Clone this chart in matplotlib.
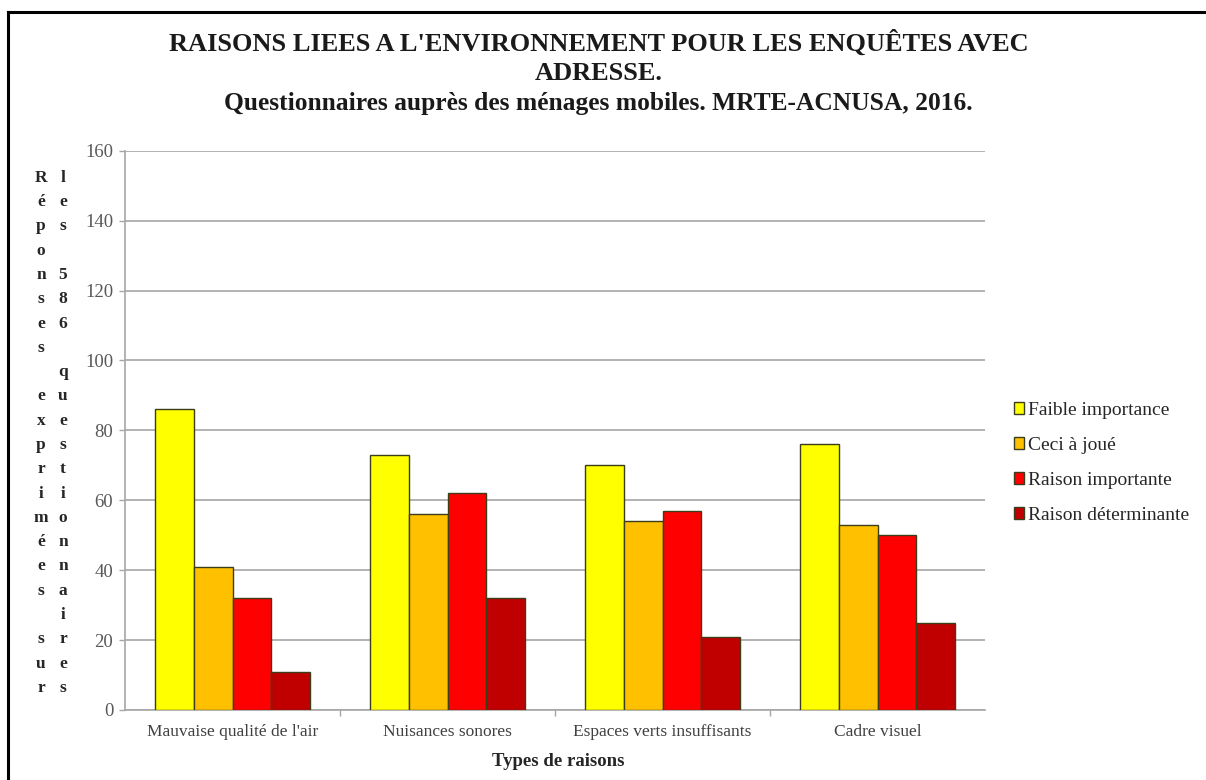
import matplotlib
matplotlib.use("Agg")
import matplotlib.pyplot as plt
import numpy as np
from matplotlib.lines import Line2D

# Data
categories = ["Mauvaise qualité de l'air", "Nuisances sonores",
              "Espaces verts insuffisants", "Cadre visuel"]
series_names = ["Faible importance", "Ceci à joué",
                "Raison importante", "Raison déterminante"]
faible = [86, 73, 70, 76]
ceci = [41, 56, 54, 53]
importante = [32, 62, 57, 50]
determinante = [11, 32, 21, 25]
series_values = [faible, ceci, importante, determinante]
series_colors = ["#FFFF00", "#FFC000", "#FF0000", "#C00000"]
yticks = [0, 20, 40, 60, 80, 100, 120, 140, 160]

title_lines = ["RAISONS LIEES A L'ENVIRONNEMENT POUR LES ENQUÊTES AVEC",
               "ADRESSE."]
subtitle = "Questionnaires auprès des ménages mobiles. MRTE-ACNUSA, 2016."
ylabel_col1 = "Réponses exprimées sur"
ylabel_col2 = "les 586 questionnaires"
xlabel = "Types de raisons"

W, H = 1206, 780
plt.rcParams["font.family"] = ["Liberation Serif", "DejaVu Serif"]

fig = plt.figure(figsize=(W / 100, H / 100), dpi=100)
fig.patch.set_facecolor("white")


def fx(px):
    return px / W


def fy(py):
    return 1 - py / H


ax = fig.add_axes([fx(125), fy(710), fx(985) - fx(125), fy(150.7) - fy(710)])

x = np.arange(len(categories))
bar_w = 0.18
n = len(series_values)
for i, (vals, col, name) in enumerate(zip(series_values, series_colors, series_names)):
    offs = (i - (n - 1) / 2) * bar_w
    ax.bar(x + offs, vals, width=bar_w, color=col, edgecolor="#3d3d1a",
           linewidth=1.0, label=name, zorder=3)

ax.set_xlim(-0.5, len(categories) - 0.5)
ax.set_ylim(0, 160)
ax.set_yticks(yticks)
ax.set_yticklabels([str(v) for v in yticks])
ax.yaxis.grid(True, color="#a6a6a6", linewidth=1.2, zorder=0)
ax.set_axisbelow(True)

for s in ["top", "right"]:
    ax.spines[s].set_visible(False)
for s in ["left", "bottom"]:
    ax.spines[s].set_color("#a6a6a6")
    ax.spines[s].set_linewidth(1.2)

ax.tick_params(axis="y", direction="out", length=4.5, width=1.0, color="#a6a6a6",
               labelsize=13.5, labelcolor="#595959", pad=4)
ax.set_xticks(x)
ax.set_xticklabels(categories)
ax.tick_params(axis="x", length=0, labelsize=12.5, labelcolor="#404040", pad=10)
ax.set_xticks(np.arange(0.5, len(categories) - 0.5, 1.0), minor=True)
ax.tick_params(axis="x", which="minor", direction="out", length=4, width=1.0,
               color="#a6a6a6")

# Titles (placed on their baselines)
fig.text(fx(599), fy(51), title_lines[0], ha="center", va="baseline",
         fontsize=19, fontweight="bold", color="#1a1a1a")
fig.text(fx(599), fy(80), title_lines[1], ha="center", va="baseline",
         fontsize=19, fontweight="bold", color="#1a1a1a")
fig.text(fx(598), fy(110), subtitle, ha="center", va="baseline",
         fontsize=18.4, fontweight="bold", color="#1a1a1a")

# Stacked y-axis label, two columns of letters
row_step = 24.3
base0 = 181.7
for col_x, text in [(41, ylabel_col1), (63, ylabel_col2)]:
    for i, ch in enumerate(text):
        if ch == " ":
            continue
        fig.text(fx(col_x), fy(base0 + i * row_step), ch, ha="center",
                 va="baseline", fontsize=12.5, fontweight="bold", color="#262626")

# x-axis title
fig.text(fx(558), fy(761), xlabel, ha="center", va="center",
         fontsize=13.5, fontweight="bold", color="#262626")

# Legend
leg = ax.legend(loc="center left", bbox_to_anchor=(fx(1006), fy(463)),
                bbox_transform=fig.transFigure, frameon=False,
                fontsize=14, handlelength=0.55, handleheight=0.55,
                handletextpad=0.2, labelspacing=0.92, borderaxespad=0)
for t in leg.get_texts():
    t.set_color("#262626")

# Frame lines along the top and left edges
fig.add_artist(Line2D([fx(8), fx(8)], [fy(12), 0], transform=fig.transFigure,
                      color="black", linewidth=2.2))
fig.add_artist(Line2D([fx(8), 1], [fy(12), fy(12)], transform=fig.transFigure,
                      color="black", linewidth=2.2))

fig.savefig("out.png", dpi=100, facecolor="white")
